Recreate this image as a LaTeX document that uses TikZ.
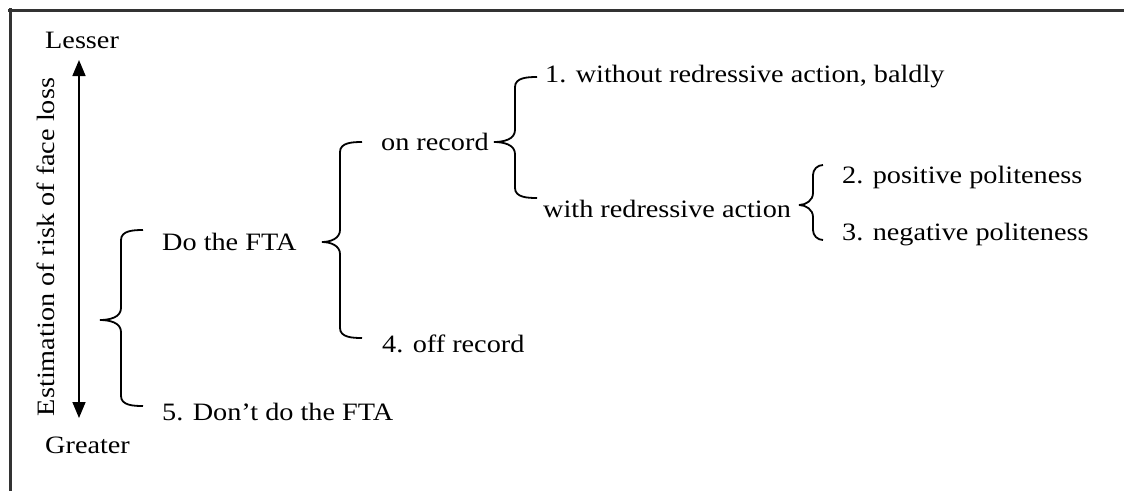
\documentclass[tikz,border=0pt]{standalone}
\usepackage{fontspec}
\setmainfont{Liberation Serif}[FakeStretch=1.13]
\usetikzlibrary{arrows.meta}
\definecolor{framegray}{HTML}{333333}
\newcommand\mybrace[6]{% tipx, tipy, vx, ex, topy, boty
  \draw[bracestyle] (#4,#5) to[out=180,in=90] ({#3},{#5+10}) -- ({#3},{#2-12}) to[out=270,in=0] (#1,#2);
  \draw[bracestyle] (#4,#6) to[out=180,in=270] ({#3},{#6-10}) -- ({#3},{#2+12}) to[out=90,in=0] (#1,#2);
}
\begin{document}
\begin{tikzpicture}[x=1pt,y=-1pt,
  lbl/.style={anchor=base west,inner sep=0pt,font=\fontsize{25}{28}\selectfont},
  bracestyle/.style={line width=1.8pt},
  frameline/.style={line width=3pt,draw=framegray}]
\useasboundingbox (0,0) rectangle (1124,491);
\fill[white] (0,0) rectangle (1124,491);
\draw[frameline] (8,10) -- (1124,10);
\draw[frameline] (10,8) -- (10,491);
% axis
\node[lbl] (lesser) at (45,48) {Lesser};
\node[lbl] (greater) at (45,453) {Greater};
\coordinate (atop) at (79,60);
\coordinate (abot) at (79,418);
\draw[line width=1.6pt,{Triangle[length=16pt,width=13pt]}-{Triangle[length=16pt,width=13pt]}] (atop) -- (abot);
\node[anchor=base,inner sep=0pt,rotate=90,font=\fontsize{25}{28}\selectfont] (est) at (54,247) {Estimation of risk of face loss};
% texts
\node[lbl] (do) at (162,250) {Do the FTA};
\node[lbl] (dont) at (162,420) {5. Don’t do the FTA};
\node[lbl] (on) at (381,150) {on record};
\node[lbl] (off) at (382,352) {4. off record};
\node[lbl] (bald) at (545,82) {1. without redressive action, baldly};
\node[lbl] (with) at (543,217) {with redressive action};
\node[lbl] (pos) at (842,183) {2. positive politeness};
\node[lbl] (neg) at (842,240) {3. negative politeness};
% braces
\mybrace{100}{320}{121}{143}{230}{406}
\mybrace{322}{242}{340}{362}{142}{338}
\mybrace{494}{142}{515}{537}{77}{198}
\mybrace{799}{205}{813}{823}{165}{240}
\end{tikzpicture}
\end{document}
